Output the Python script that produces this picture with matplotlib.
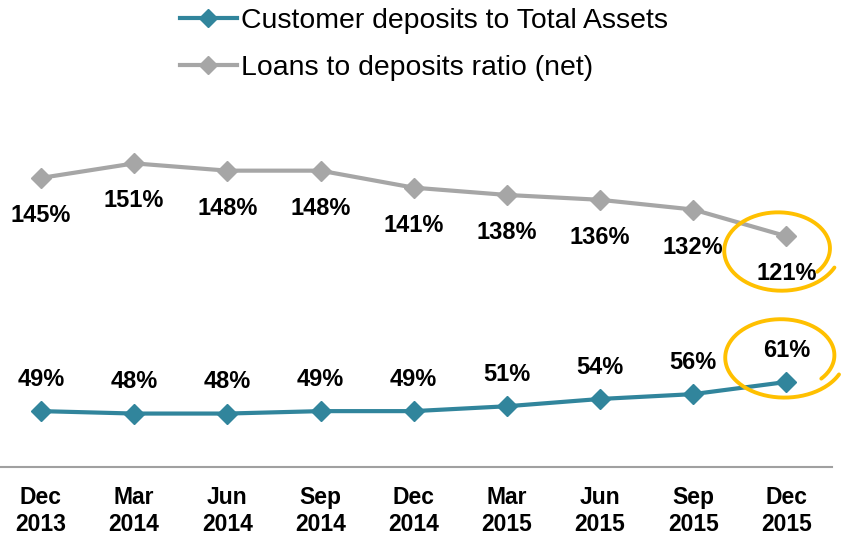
import numpy as np
import matplotlib
matplotlib.use("Agg")
import matplotlib.pyplot as plt
from matplotlib.lines import Line2D

plt.rcParams['font.family'] = ['Liberation Sans', 'DejaVu Sans']

# Data
periods = ["Dec\n2013", "Mar\n2014", "Jun\n2014", "Sep\n2014", "Dec\n2014",
           "Mar\n2015", "Jun\n2015", "Sep\n2015", "Dec\n2015"]
deposits_to_assets = [49, 48, 48, 49, 49, 51, 54, 56, 61]
loans_to_deposits = [145, 151, 148, 148, 141, 138, 136, 132, 121]

teal = "#31859C"
grey = "#A6A6A6"
yellow = "#FFC000"

fig = plt.figure(figsize=(8.47, 5.41), dpi=100)
ax = fig.add_axes([0.0, 0.1368, 0.9823, 0.66])

x = np.arange(len(periods))
ax.plot(x, loans_to_deposits, color=grey, lw=3, marker="D", ms=10, zorder=3)
ax.plot(x, deposits_to_assets, color=teal, lw=3, marker="D", ms=10, zorder=3)

# value labels
for xi, v in zip(x, loans_to_deposits):
    ax.annotate(f"{v}%", (xi, v), xytext=(0, -27), textcoords="offset points",
                ha="center", va="center", fontsize=17, fontweight="bold")
for xi, v in zip(x, deposits_to_assets):
    ax.annotate(f"{v}%", (xi, v), xytext=(0, 23), textcoords="offset points",
                ha="center", va="center", fontsize=17, fontweight="bold")

ax.set_xlim(-0.44, 8.49)
ax.set_ylim(26, 173)
ax.set_xticks(x)
ax.set_xticklabels(periods, fontsize=16.5, fontweight="bold")
ax.tick_params(axis="x", length=0, pad=14)
ax.set_yticks([])
for s in ["left", "right", "top"]:
    ax.spines[s].set_visible(False)
ax.spines["bottom"].set_color("#A0A0A0")
ax.spines["bottom"].set_linewidth(1.5)


# hand-drawn highlight loops around the last values (slightly spiralled)
def loop(cx, cy, rx, ry):
    t = np.linspace(np.radians(-40), np.radians(335), 240)
    r = 0.86 + 0.2 * (t - t[0]) / (t[-1] - t[0])
    return cx + rx * r * np.cos(t), cy + ry * r * np.sin(t)


lx, ly = loop(7.93, 115.5, 0.61, 16.5)
ax.plot(lx, ly, color=yellow, lw=2.8, clip_on=False, zorder=4,
        solid_capstyle="round")
lx, ly = loop(7.96, 71.5, 0.63, 16.5)
ax.plot(lx, ly, color=yellow, lw=2.8, clip_on=False, zorder=4,
        solid_capstyle="round")

handles = [
    Line2D([], [], color=teal, lw=3, marker="D", ms=9),
    Line2D([], [], color=grey, lw=3, marker="D", ms=9),
]
labels = ["Customer deposits to Total Assets", "Loans to deposits ratio (net)"]
fig.legend(handles, labels, loc="upper left", bbox_to_anchor=(0.2125, 0.985),
           frameon=False, fontsize=20.4, handlelength=2.0, handletextpad=0.15,
           labelspacing=0.75, borderpad=0, borderaxespad=0)

fig.savefig("out.png", dpi=100)
